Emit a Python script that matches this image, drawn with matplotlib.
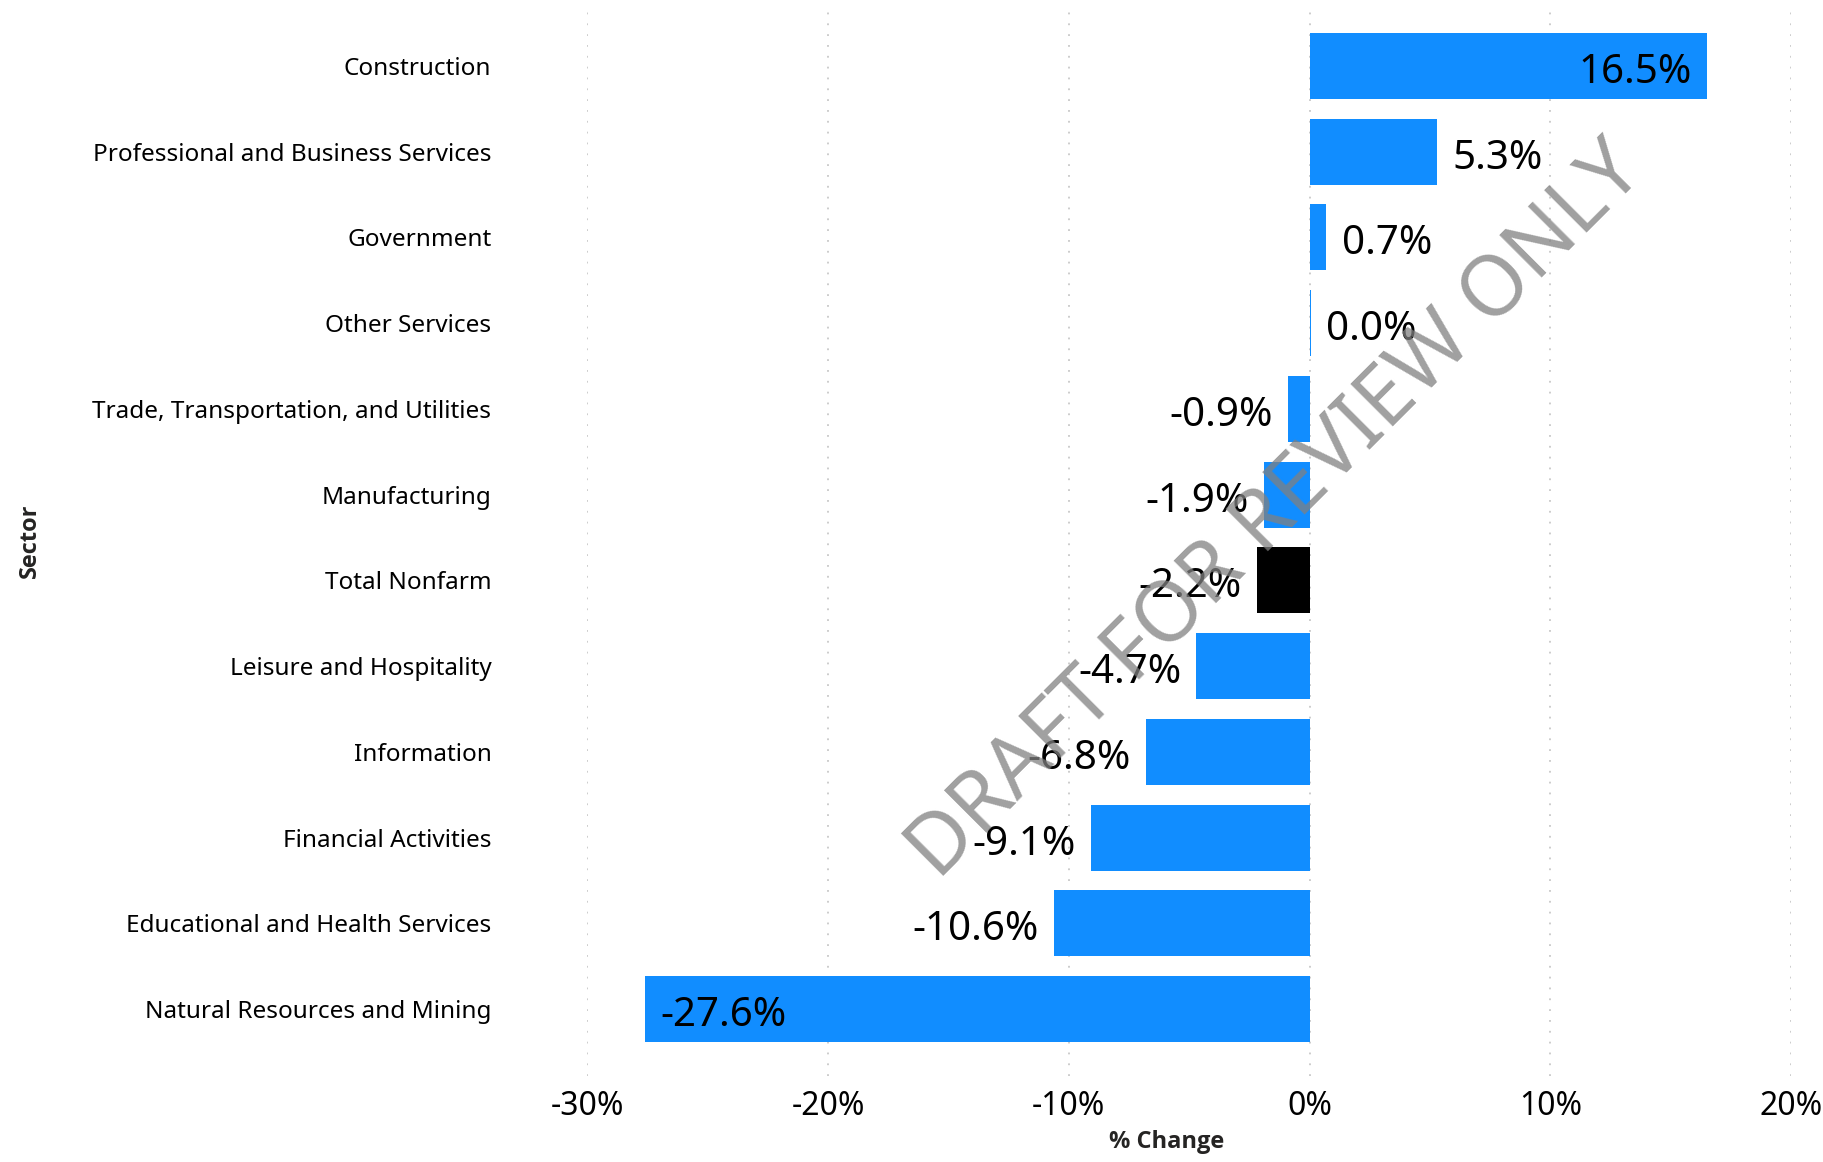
import matplotlib
matplotlib.use("Agg")
import matplotlib.pyplot as plt

# % change by sector, listed top to bottom
sectors = [
    "Construction",
    "Professional and Business Services",
    "Government",
    "Other Services",
    "Trade, Transportation, and Utilities",
    "Manufacturing",
    "Total Nonfarm",
    "Leisure and Hospitality",
    "Information",
    "Financial Activities",
    "Educational and Health Services",
    "Natural Resources and Mining",
]
pct_change = [16.5, 5.3, 0.7, 0.04, -0.9, -1.9, -2.2, -4.7, -6.8, -9.1, -10.6, -27.6]
x_ticks = [-30, -20, -10, 0, 10, 20]

BLUE = "#118DFF"
TOTAL = "black"
FONT = "Noto Sans"
TITLE_FONT = ["Open Sans", "Lato", "DejaVu Sans"]

plt.rcParams["font.family"] = [FONT, "DejaVu Sans"]

fig = plt.figure(figsize=(18.24, 11.62), dpi=100)
ax = fig.add_axes([0.322, 0.074, 0.66, 0.921])

n = len(sectors)
ypos = list(range(n - 1, -1, -1))
colors = [TOTAL if s == "Total Nonfarm" else BLUE for s in sectors]
ax.barh(ypos, pct_change, height=0.77, color=colors, zorder=2)

# value labels: outside the bar end, inside for the long bars
for y, v in zip(ypos, pct_change):
    txt = f"{v:.1f}%"
    inside = abs(v) > 15
    if v >= 0:
        off, ha = (-11, "right") if inside else (11, "left")
    else:
        off, ha = (11, "left") if inside else (-11, "right")
    ax.annotate(txt, xy=(v, y), xytext=(off, -5), textcoords="offset points",
                ha=ha, va="center", fontsize=29, color="black", zorder=3)

ax.set_xlim(-30, 20)
ax.set_ylim(-0.78, 11.70)
ax.set_xticks(x_ticks)
ax.set_xticklabels([f"{t}%" for t in x_ticks])
ax.set_yticks(ypos)
ax.set_yticklabels(sectors)
ax.tick_params(axis="x", length=0, pad=10, labelsize=23, labelcolor="black")
ax.tick_params(axis="y", length=0, pad=69, labelsize=17.5, labelcolor="black")

ax.grid(axis="x", linestyle=(0, (1, 5)), color="#c8c8c8", linewidth=1.3, zorder=0)
ax.set_axisbelow(True)
for sp in ax.spines.values():
    sp.set_visible(False)

ax.set_xlabel("% Change", fontsize=17, fontweight="bold", family=TITLE_FONT, color="#252423")
ax.xaxis.set_label_coords(0.481, -0.05)
ax.set_ylabel("Sector", fontsize=17, fontweight="bold", family=TITLE_FONT, color="#252423")
ax.yaxis.set_label_coords(-0.453, 0.5)

fig.text(0.70, 0.559, "DRAFT FOR REVIEW ONLY", rotation=45, rotation_mode="anchor",
         ha="center", va="center", fontsize=60, color="gray", alpha=0.75, zorder=10)

fig.savefig("out.png", dpi=100)
